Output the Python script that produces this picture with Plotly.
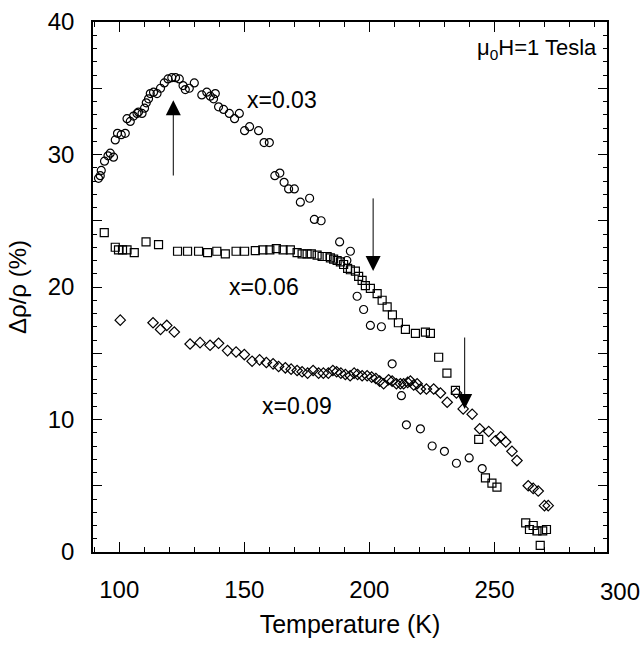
import plotly.graph_objects as go

# ---- data (Temperature K, delta rho / rho %) ----
t_003 = [91.7, 92.4, 92.8, 94.1, 95.5, 96.4, 97.7, 98.4, 99.3, 100.8, 102.4, 103.1, 104.4, 105.7,
         107.1, 107.7, 109.1, 110.1, 110.8, 111.7, 112.4, 113.7, 115.1, 116.5, 118.0, 119.5, 121.0,
         122.5, 124.0, 125.5, 126.4, 128.0, 130.0, 133.0, 135.0, 136.4, 137.7, 138.4, 139.7, 141.7,
         144.0, 146.1, 148.0, 150.1, 152.1, 155.7, 157.9, 160.0, 162.2, 164.2, 165.9, 167.7, 170.0,
         172.4, 176.1, 178.0, 180.7, 188.1, 191.0, 192.4, 195.1, 197.7, 200.4, 204.8, 209.1, 212.8,
         214.8, 220.4, 225.1, 230.0, 234.8, 239.9, 245.1]
v_003 = [28.2, 28.4, 28.8, 29.5, 29.9, 30.1, 29.8, 31.1, 31.6, 31.5, 31.6, 32.7, 32.5, 32.9,
         33.1, 33.2, 33.1, 33.5, 33.9, 34.2, 34.6, 34.7, 34.6, 35.0, 35.4, 35.7, 35.8,
         35.8, 35.7, 35.2, 34.9, 35.0, 35.4, 34.5, 34.7, 34.4, 34.2, 34.6, 33.6, 33.4,
         33.1, 32.7, 33.1, 31.8, 32.1, 31.8, 30.9, 30.9, 28.4, 28.6, 27.9, 27.4, 27.4,
         26.4, 26.7, 25.1, 25.0, 23.4, 22.0, 22.7, 19.3, 18.3, 17.1, 17.0, 14.2, 11.8,
         9.6, 9.3, 8.0, 7.6, 6.7, 7.1, 6.3]

t_006 = [94.0, 98.4, 99.7, 101.3, 103.1, 106.0, 110.7, 115.7, 123.3, 127.3, 131.7, 135.3, 139.0,
         142.4, 146.7, 150.1, 154.4, 157.4, 160.2, 162.8, 165.5, 168.4, 171.1, 173.1, 175.1, 176.8,
         179.1, 181.1, 183.1, 184.4, 185.7, 187.1, 188.4, 189.7, 191.3, 192.4, 194.4, 195.7, 197.1,
         198.4, 200.4, 203.1, 205.1, 207.1, 209.2, 211.6, 214.4, 218.4, 222.4, 224.4, 227.7, 231.0,
         234.4, 243.7, 246.4, 249.0, 251.0, 262.5, 264.0, 265.5, 267.0, 268.3, 269.3, 270.8]
v_006 = [24.1, 23.0, 22.8, 22.8, 22.8, 22.6, 23.4, 23.2, 22.7, 22.7, 22.7, 22.6, 22.7,
         22.5, 22.7, 22.7, 22.75, 22.8, 22.8, 22.9, 22.8, 22.8, 22.6, 22.5, 22.5, 22.5,
         22.4, 22.3, 22.3, 22.2, 22.1, 22.0, 21.9, 21.7, 21.4, 21.3, 21.2, 20.8, 20.5,
         20.1, 19.9, 19.5, 19.0, 18.5, 17.9, 17.3, 16.8, 16.5, 16.6, 16.5, 14.7, 13.5,
         12.2, 8.5, 5.6, 5.2, 4.9, 2.2, 1.7, 2.0, 1.6, 0.5, 1.6, 1.7]

t_009 = [100.4, 113.5, 116.5, 119.0, 122.0, 128.3, 132.3, 136.3, 139.7, 143.3, 146.7, 150.0, 153.1,
         156.1, 158.8, 161.5, 163.7, 166.4, 168.7, 171.1, 173.1, 175.3, 177.5, 179.7, 181.6, 183.6,
         185.4, 186.9, 188.6, 190.4, 192.3, 193.9, 195.3, 197.1, 199.1, 200.9, 202.6, 204.1, 205.7,
         207.7, 209.1, 210.8, 212.4, 213.7, 215.3, 216.4, 217.7, 219.1, 220.4, 222.8, 225.7, 228.4,
         231.1, 234.8, 237.5, 241.1, 244.1, 247.7, 250.4, 252.5, 254.5, 257.0, 259.0, 263.5, 265.5,
         267.5, 270.0, 271.5]
v_009 = [17.5, 17.3, 16.8, 17.1, 16.6, 15.7, 15.8, 15.6, 15.75, 15.2, 15.1, 14.9, 14.4,
         14.5, 14.3, 14.2, 14.0, 13.9, 13.8, 13.7, 13.6, 13.5, 13.7, 13.5, 13.5, 13.5,
         13.7, 13.6, 13.5, 13.4, 13.3, 13.5, 13.4, 13.3, 13.3, 13.2, 13.1, 12.9, 12.7,
         13.0, 12.9, 12.7, 12.7, 12.7, 12.8, 12.9, 12.6, 12.7, 12.3, 12.3, 12.3, 12.0,
         11.3, 12.0, 10.8, 10.4, 9.3, 9.1, 8.4, 8.7, 8.3, 7.6, 6.9, 5.0, 4.8,
         4.6, 3.5, 3.5]

# arrows: (temperature, tail value, tip value)
arrows = [(121.6, 28.3, 34.1), (201.5, 26.8, 21.2), (238.1, 16.3, 10.8)]

x_tickvals = [100, 150, 200, 250]
x_ticktext = ["100", "150", "200", "250"]
y_tickvals = [0, 5, 10, 15, 20, 25, 30, 35, 40]
y_ticktext = ["0", "", "10", "", "20", "", "30", "", "40"]

X_RANGE = [89.5, 295.0]
Y_RANGE = [0, 40]

FONT = "Liberation Sans, Arial, sans-serif"

fig = go.Figure()
fig.add_trace(go.Scatter(x=t_003, y=v_003, mode="markers", name="x=0.03",
                         marker=dict(symbol="circle-open", size=8, color="black", line=dict(width=1.2))))
fig.add_trace(go.Scatter(x=t_006, y=v_006, mode="markers", name="x=0.06",
                         marker=dict(symbol="square-open", size=8, color="black", line=dict(width=1.2))))
fig.add_trace(go.Scatter(x=t_009, y=v_009, mode="markers", name="x=0.09",
                         marker=dict(symbol="diamond-open", size=8, color="black", line=dict(width=1.2))))

for (tx, tail, tip) in arrows:
    fig.add_annotation(x=tx, y=tip, ax=tx, ay=tail, xref="x", yref="y", axref="x", ayref="y",
                       showarrow=True, arrowhead=2, arrowsize=3, arrowwidth=1, arrowcolor="black",
                       text="")

fig.add_annotation(x=150.4, y=34.1, text="x=0.03", showarrow=False, xanchor="left", yanchor="middle",
                   font=dict(family=FONT, size=23, color="black"))
fig.add_annotation(x=143.0, y=20.0, text="x=0.06", showarrow=False, xanchor="left", yanchor="middle",
                   font=dict(family=FONT, size=23, color="black"))
fig.add_annotation(x=156.4, y=11.0, text="x=0.09", showarrow=False, xanchor="left", yanchor="middle",
                   font=dict(family=FONT, size=23, color="black"))
fig.add_annotation(x=291.6, y=38.0, text="μ<sub>0</sub>H=1 Tesla", showarrow=False,
                   xanchor="right", yanchor="middle", font=dict(family=FONT, size=22, color="black"))
# 300 label lies just beyond the frame edge
fig.add_annotation(x=(300 - X_RANGE[0]) / (X_RANGE[1] - X_RANGE[0]), y=0, xref="paper", yref="paper",
                   yshift=-39, text="300", showarrow=False, xanchor="center", yanchor="middle",
                   font=dict(family=FONT, size=24, color="black"))

axis_common = dict(showline=True, linecolor="black", linewidth=1.5, mirror="ticks",
                   ticks="inside", tickcolor="black", tickwidth=1, showgrid=False, zeroline=False,
                   tickfont=dict(family=FONT, size=24, color="black"))

fig.update_xaxes(range=X_RANGE, tickmode="array", tickvals=x_tickvals, ticktext=x_ticktext,
                 ticklen=10, ticklabelstandoff=15,
                 minor=dict(dtick=10, tick0=0, ticks="inside", ticklen=5, tickcolor="black", tickwidth=1),
                 title=dict(text="Temperature (K)", font=dict(family=FONT, size=25, color="black"),
                            standoff=14),
                 **axis_common)
fig.update_yaxes(range=Y_RANGE, tickmode="array", tickvals=y_tickvals, ticktext=y_ticktext,
                 ticklen=9, ticklabelstandoff=12,
                 minor=dict(dtick=1, tick0=0, ticks="inside", ticklen=4, tickcolor="black", tickwidth=1),
                 title=dict(text="Δρ/ρ (%)", font=dict(family=FONT, size=24, color="black"),
                            standoff=14),
                 **axis_common)

fig.update_layout(width=642, height=646, margin=dict(l=93, r=35, t=22, b=94, autoexpand=False),
                  paper_bgcolor="white", plot_bgcolor="white", showlegend=False,
                  font=dict(family=FONT, color="black"))

fig.write_html("out.html")
